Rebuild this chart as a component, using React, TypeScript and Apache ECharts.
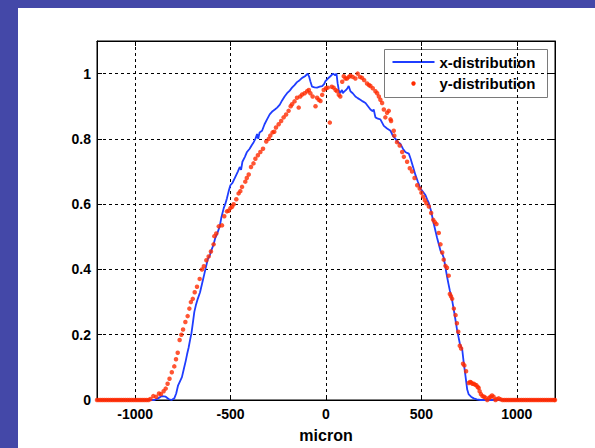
import React, { useEffect, useRef } from "react";
import * as echarts from "echarts";

const xTickValues = [-1000, -500, 0, 500, 1000];
const yTickValues = [0, 0.2, 0.4, 0.6, 0.8, 1];
const legendNames = ["x-distribution", "y-distribution"];
const xAxisTitle = "micron";

const xDistribution: [number, number][] = [
  [-1200, 0], [-900, 0], [-880, 0.005], [-860, 0.012], [-840, 0.01], [-825, 0.003], [-810, 0],
  [-795, 0.005], [-785, 0.02], [-775, 0.045], [-767, 0.055], [-755, 0.07], [-745, 0.095],
  [-735, 0.12], [-728, 0.14], [-720, 0.16], [-712, 0.185], [-705, 0.205], [-698, 0.235],
  [-690, 0.27], [-682, 0.29], [-672, 0.31], [-660, 0.33], [-648, 0.36], [-638, 0.385],
  [-630, 0.405], [-620, 0.43], [-608, 0.445], [-600, 0.46], [-590, 0.475], [-580, 0.497],
  [-570, 0.51], [-557, 0.532], [-548, 0.56], [-536, 0.588], [-528, 0.6], [-519, 0.618],
  [-510, 0.64], [-501, 0.658], [-490, 0.665], [-475, 0.684], [-462, 0.7], [-452, 0.714],
  [-445, 0.705], [-438, 0.73], [-425, 0.745], [-414, 0.76], [-400, 0.77], [-390, 0.78],
  [-379, 0.79], [-370, 0.8], [-361, 0.815], [-355, 0.8], [-348, 0.82], [-335, 0.825],
  [-322, 0.845], [-309, 0.86], [-295, 0.875], [-280, 0.885], [-268, 0.89], [-256, 0.896],
  [-242, 0.905], [-230, 0.918], [-217, 0.93], [-204, 0.94], [-190, 0.948], [-178, 0.957],
  [-165, 0.965], [-152, 0.974], [-138, 0.98], [-125, 0.987], [-110, 0.992], [-96, 1.0],
  [-88, 0.99], [-82, 0.977], [-73, 0.96], [-60, 0.958], [-47, 0.957], [-33, 0.96],
  [-20, 0.962], [-10, 0.968], [-3, 0.977], [10, 0.985], [23, 0.992], [37, 1.0], [48, 0.995],
  [55, 1.0], [61, 0.97], [67, 0.95], [72, 0.94], [78, 0.945], [84, 0.95], [88, 0.94],
  [95, 0.945], [105, 0.95], [112, 0.955], [119, 0.962], [128, 0.946], [140, 0.94],
  [154, 0.93], [166, 0.925], [180, 0.92], [193, 0.915], [207, 0.91], [220, 0.9], [233, 0.89],
  [245, 0.885], [250, 0.89], [259, 0.866], [272, 0.862], [285, 0.86], [294, 0.85],
  [303, 0.84], [320, 0.832], [338, 0.825], [350, 0.81], [364, 0.8], [377, 0.79], [390, 0.785],
  [403, 0.77], [416, 0.76], [425, 0.757], [434, 0.755], [443, 0.74], [456, 0.715],
  [469, 0.689], [482, 0.668], [495, 0.648], [508, 0.638], [521, 0.628], [530, 0.615],
  [539, 0.603], [551, 0.578], [562, 0.547], [574, 0.517], [582, 0.497], [591, 0.477],
  [600, 0.457], [610, 0.447], [617, 0.436], [626, 0.406], [635, 0.376], [642, 0.355],
  [649, 0.335], [661, 0.305], [673, 0.265], [687, 0.214], [701, 0.174], [714, 0.154],
  [722, 0.113], [731, 0.073], [740, 0.032], [748, 0.017], [760, 0.01], [774, 0.005],
  [790, 0.002], [810, 0], [1200, 0],
];

const yZeroLeft: [number, number][] = [
  [-1200, 0], [-1190, 0], [-1180, 0], [-1170, 0], [-1160, 0], [-1150, 0], [-1140, 0],
  [-1130, 0], [-1120, 0], [-1110, 0], [-1100, 0], [-1090, 0], [-1080, 0], [-1070, 0],
  [-1060, 0], [-1050, 0], [-1040, 0], [-1030, 0], [-1020, 0], [-1010, 0], [-1000, 0],
  [-990, 0], [-980, 0], [-970, 0], [-960, 0], [-950, 0], [-940, 0], [-930, 0],
];

const yCentral: [number, number][] = [
  [-920, 0.003], [-905, 0.012], [-890, 0.01], [-875, 0.02], [-865, 0.018], [-851, 0.027],
  [-840, 0.035], [-830, 0.05], [-820, 0.065], [-808, 0.085], [-795, 0.103], [-786, 0.125],
  [-777, 0.145], [-767, 0.184], [-758, 0.2], [-749, 0.216], [-737, 0.239], [-725, 0.257],
  [-716, 0.28], [-708, 0.3], [-698, 0.31], [-688, 0.33], [-676, 0.347], [-662, 0.371],
  [-650, 0.4], [-640, 0.41], [-627, 0.428], [-615, 0.44], [-603, 0.455], [-589, 0.477],
  [-585, 0.502], [-575, 0.51], [-562, 0.532], [-545, 0.535], [-533, 0.563], [-519, 0.578],
  [-510, 0.58], [-501, 0.588], [-492, 0.592], [-484, 0.6], [-470, 0.615], [-458, 0.633],
  [-449, 0.64], [-440, 0.653], [-423, 0.669], [-415, 0.68], [-405, 0.691], [-393, 0.714],
  [-380, 0.725], [-370, 0.739], [-357, 0.75], [-344, 0.76], [-330, 0.77], [-313, 0.792],
  [-300, 0.8], [-292, 0.81], [-280, 0.82], [-271, 0.822], [-262, 0.835], [-248, 0.845],
  [-235, 0.855], [-222, 0.866], [-209, 0.875], [-196, 0.886], [-185, 0.9], [-178, 0.906],
  [-165, 0.915], [-152, 0.926], [-143, 0.896], [-135, 0.93], [-125, 0.936], [-112, 0.94],
  [-99, 0.946], [-90, 0.95], [-82, 0.94], [-70, 0.93], [-55, 0.9], [-47, 0.926],
  [-38, 0.92], [-29, 0.916], [-20, 0.935], [-12, 0.95], [0, 0.955], [9, 0.957], [20, 0.85],
  [30, 0.96], [40, 0.957], [50, 0.95], [58, 0.946], [67, 0.935], [75, 0.93], [85, 0.975],
  [93, 0.992], [102, 0.985], [110, 0.985], [120, 0.99], [128, 0.994], [140, 0.99],
  [154, 0.985], [166, 1.0], [178, 0.99], [189, 0.987], [200, 0.98], [215, 0.97],
  [225, 0.965], [233, 0.962], [245, 0.955], [259, 0.946], [268, 0.94], [277, 0.93],
  [285, 0.92], [294, 0.91], [303, 0.89], [311, 0.866], [320, 0.88], [329, 0.886],
  [338, 0.86], [341, 0.855], [355, 0.825], [358, 0.81], [372, 0.79], [386, 0.78],
  [399, 0.76], [408, 0.745], [425, 0.73], [439, 0.71], [451, 0.7], [464, 0.68],
  [478, 0.658], [491, 0.648], [500, 0.635], [509, 0.623], [518, 0.612], [526, 0.603],
  [539, 0.593], [551, 0.573], [562, 0.552], [570, 0.545], [579, 0.539], [591, 0.512],
  [600, 0.477], [609, 0.452], [617, 0.43], [626, 0.411], [634, 0.405], [643, 0.381],
  [649, 0.325], [655, 0.318], [661, 0.31], [670, 0.28], [679, 0.26], [686, 0.235],
  [693, 0.209], [701, 0.166], [708, 0.158], [718, 0.111], [725, 0.106], [734, 0.088],
  [748, 0.052], [755, 0.055], [760, 0.054], [767, 0.05], [774, 0.05], [781, 0.047],
  [788, 0.045], [795, 0.04], [800, 0.037], [805, 0.027], [812, 0.018], [820, 0.012],
  [828, 0.01], [836, 0.007], [845, 0], [855, 0.006], [862, 0.01], [870, 0.014],
  [878, 0.01], [888, 0], [895, 0.003], [905, 0.005], [915, 0.002], [925, 0],
];

const yZeroRight: [number, number][] = [
  [935, 0], [945, 0], [955, 0], [965, 0], [975, 0], [985, 0], [995, 0], [1005, 0],
  [1015, 0], [1025, 0], [1035, 0], [1045, 0], [1055, 0], [1065, 0], [1075, 0], [1085, 0],
  [1095, 0], [1105, 0], [1115, 0], [1125, 0], [1135, 0], [1145, 0], [1155, 0], [1165, 0],
  [1175, 0], [1185, 0], [1195, 0], [1200, 0],
];

const yDistribution: [number, number][] = [...yZeroLeft, ...yCentral, ...yZeroRight];

const BLUE = "#1f3dff";
const RED = "#ff2a00";
const FONT = "'Liberation Sans', Arial, Helvetica, sans-serif";

function isTick(list: number[], v: number) {
  return list.some((t) => Math.abs(t - v) < 1e-6);
}

export default function App() {
  const ref = useRef<HTMLDivElement>(null);

  useEffect(() => {
    if (!ref.current) return;
    const chart = echarts.init(ref.current, undefined, { renderer: "svg" });
    const axisLine = { show: true, onZero: false, lineStyle: { color: "#000", width: 1 } };
    const tick = { show: true, inside: true, length: 5, lineStyle: { color: "#000", width: 1 } };
    const labelStyle = { color: "#000", fontSize: 14, fontWeight: "bold", fontFamily: FONT };
    const option = {
      animation: false,
      backgroundColor: "#ffffff",
      textStyle: { fontFamily: FONT },
      grid: {
        left: 79, top: 33, right: 40, bottom: 44,
        show: true, borderColor: "#000", borderWidth: 1, backgroundColor: "transparent",
      },
      xAxis: [
        {
          type: "value", min: -1200, max: 1200, splitNumber: 5, position: "bottom",
          axisLine, axisTick: tick,
          axisLabel: {
            ...labelStyle, margin: 7,
            formatter: (v: number) => (isTick(xTickValues, v) ? String(v) : ""),
          },
          splitLine: { show: true, lineStyle: { color: "#000", width: 1, type: [3, 3] } },
          name: xAxisTitle, nameLocation: "middle", nameGap: 27,
          nameTextStyle: { color: "#000", fontSize: 16, fontWeight: "bold", fontFamily: FONT },
        },
        {
          type: "value", min: -1200, max: 1200, splitNumber: 5, position: "top",
          axisLine, axisTick: tick, axisLabel: { show: false }, splitLine: { show: false },
        },
      ],
      yAxis: [
        {
          type: "value", min: 0, max: 1.1, interval: 0.2, position: "left",
          axisLine, axisTick: tick,
          axisLabel: {
            ...labelStyle, margin: 6,
            formatter: (v: number) => (isTick(yTickValues, v) ? String(Math.round(v * 10) / 10) : ""),
          },
          splitLine: { show: true, lineStyle: { color: "#000", width: 1, type: [3, 3] } },
        },
        {
          type: "value", min: 0, max: 1.1, interval: 0.2, position: "right",
          axisLine, axisTick: tick, axisLabel: { show: false }, splitLine: { show: false },
        },
      ],
      series: [
        {
          name: legendNames[0], type: "line", data: xDistribution,
          xAxisIndex: 0, yAxisIndex: 0, symbol: "none", showSymbol: false,
          lineStyle: { color: BLUE, width: 1.8 }, itemStyle: { color: BLUE }, z: 2,
        },
        {
          name: legendNames[1], type: "scatter", data: yDistribution,
          xAxisIndex: 0, yAxisIndex: 0, symbol: "circle", symbolSize: 4.5,
          itemStyle: { color: RED }, z: 3,
        },
      ],
      graphic: [
        {
          type: "group", left: 366, top: 41, z: 100,
          children: [
            { type: "rect", shape: { x: 0, y: 0, width: 163, height: 48 }, style: { fill: "#fff", stroke: "#7a7a7a", lineWidth: 1 } },
            { type: "line", shape: { x1: 8, y1: 12.5, x2: 50, y2: 12.5 }, style: { stroke: BLUE, lineWidth: 2 } },
            { type: "circle", shape: { cx: 29, cy: 34, r: 2.2 }, style: { fill: RED } },
            { type: "text", x: 55, y: 12.5, style: { text: legendNames[0], fill: "#000", font: `bold 15px ${FONT}`, verticalAlign: "middle" } },
            { type: "text", x: 55, y: 34, style: { text: legendNames[1], fill: "#000", font: `bold 15px ${FONT}`, verticalAlign: "middle" } },
          ],
        },
      ],
    };
    chart.setOption(option as any);
    return () => chart.dispose();
  }, []);

  return (
    <div style={{ position: "fixed", left: 0, top: 0, width: 595, height: 448, background: "#4448a8" }}>
      <div ref={ref} style={{ position: "absolute", left: 18, top: 8, width: 577, height: 440, background: "#fff" }} />
    </div>
  );
}
